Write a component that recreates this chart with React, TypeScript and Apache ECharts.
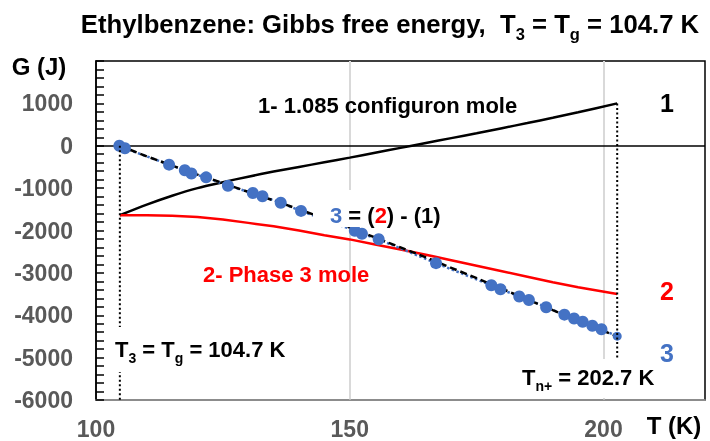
import React, { useEffect, useRef } from "react";
import * as echarts from "echarts";

// ---- data ----
const curveT = [104.7, 110, 115, 120, 125, 130, 135, 140, 145, 150, 155, 160, 165, 170, 175, 180, 185, 190, 195, 202.7];
// 1 - 1.085 configuron mole
const configuronG = [-1640, -1390, -1180, -1000, -860, -730, -610, -500, -390, -280, -165, -50, 65, 180, 295, 415, 535, 660, 790, 1000];
// 2 - Phase 3 mole
const phase3G = [-1640, -1640, -1650, -1680, -1740, -1820, -1900, -2000, -2110, -2210, -2330, -2450, -2570, -2700, -2830, -2960, -3090, -3220, -3340, -3500];
// black dashed curve (2) - (1)
const diffG = [0, -250, -470, -680, -880, -1090, -1290, -1500, -1720, -1930, -2165, -2400, -2635, -2880, -3125, -3375, -3625, -3880, -4130, -4500];
// blue points, 3
const pointT = [104.6, 105.7, 114.4, 117.5, 118.8, 121.7, 126.0, 130.9, 132.8, 136.4, 140.4, 151.0, 152.4, 155.7, 167.0, 177.9, 179.7, 183.4, 185.3, 188.7, 192.3, 194.2, 195.9, 197.8, 199.6, 202.7];
const pointG = [0, -60, -446, -577, -654, -746, -946, -1115, -1192, -1346, -1538, -2005, -2078, -2208, -2771, -3293, -3386, -3556, -3640, -3810, -3986, -4078, -4155, -4248, -4332, -4494];
const T3 = 104.7;
const Tn = 202.7;
const T3LineG = [0, -6000];
const TnLineG = [1000, -6000];

const FONT = "'Liberation Sans', Arial, Helvetica, sans-serif";
const BLUE = "#4472C4";
const RED = "#FF0000";

export default function App() {
  const ref = useRef<HTMLDivElement>(null);
  useEffect(() => {
    if (!ref.current) return;
    const chart = echarts.init(ref.current, undefined, { renderer: "svg" });
    const pair = (xs: number[], ys: number[]) => xs.map((x, i) => [x, ys[i]]);
    const txt = (
      text: string,
      x: number,
      y: number,
      size: number,
      color: string,
      align: string = "left",
      rich?: any
    ) => ({
      type: "text",
      x,
      y,
      z: 100,
      silent: true,
      style: {
        text,
        font: `bold ${size}px ${FONT}`,
        fill: color,
        align,
        textAlign: align,
        verticalAlign: "middle",
        textVerticalAlign: "middle",
        rich,
      },
    });
    const whiteBox = (x: number, y: number, w: number, h: number) => ({
      type: "rect",
      z: 99,
      silent: true,
      shape: { x, y, width: w, height: h },
      style: { fill: "#fff" },
    });
    const sub = (size: number, pad: number, color = "#000") => ({
      fontSize: size,
      fontWeight: "bold",
      fontFamily: FONT,
      fill: color,
      color,
      padding: [pad, 0, 0, 0],
    });
    const plain = (size: number, color: string) => ({
      fontSize: size,
      fontWeight: "bold",
      fontFamily: FONT,
      fill: color,
      color,
    });

    chart.setOption({
      animation: false,
      grid: {
        left: 96,
        right: 5,
        top: 61,
        bottom: 41,
        show: true,
        borderColor: "#000",
        borderWidth: 1.5,
        backgroundColor: "transparent",
      },
      xAxis: {
        type: "value",
        min: 100,
        max: 220,
        interval: 50,
        axisLine: { show: true, onZero: false, lineStyle: { color: "#a6a6a6", width: 1.5 } },
        axisTick: { show: false },
        axisLabel: {
          color: "#595959",
          fontWeight: "bold",
          fontSize: 23,
          fontFamily: FONT,
          margin: 17,
          showMaxLabel: false,
          formatter: (v: number) => (v % 50 === 0 ? String(v) : ""),
        },
        splitLine: {
          show: true,
          showMinLine: false,
          showMaxLine: false,
          lineStyle: { color: "#d9d9d9", width: 2 },
        },
      },
      yAxis: {
        type: "value",
        min: -6000,
        max: 2000,
        interval: 1000,
        axisLine: { show: true, onZero: false, lineStyle: { color: "#000", width: 1.5 } },
        axisTick: { show: true, inside: true, length: 8, lineStyle: { color: "#000", width: 1.5 } },
        minorTick: { show: true, splitNumber: 5, length: 8, lineStyle: { color: "#000", width: 1.5 } },
        axisLabel: {
          color: "#595959",
          fontWeight: "bold",
          fontSize: 23,
          fontFamily: FONT,
          margin: 23,
          showMaxLabel: false,
          formatter: (v: number) => String(v),
        },
        splitLine: { show: false },
      },
      series: [
        {
          type: "line",
          name: "1",
          data: pair(curveT, configuronG),
          symbol: "none",
          smooth: 0.3,
          lineStyle: { color: "#000", width: 2.5 },
          z: 3,
          markLine: {
            silent: true,
            symbol: ["none", "none"],
            label: { show: false },
            lineStyle: { color: "#000", width: 1.5, type: "solid" },
            data: [{ yAxis: 0 }],
          },
        },
        {
          type: "line",
          name: "2",
          data: pair(curveT, phase3G),
          symbol: "none",
          lineStyle: { color: RED, width: 2.5 },
          z: 3,
        },
        {
          type: "line",
          name: "3 line",
          data: pair(pointT, pointG),
          symbol: "none",
          lineStyle: { color: BLUE, width: 2.5, type: "dotted" },
          z: 4,
        },
        {
          type: "line",
          name: "diff",
          data: pair(curveT, diffG),
          symbol: "none",
          lineStyle: { color: "#000", width: 2.5, type: [7, 4] },
          z: 5,
        },
        {
          type: "scatter",
          name: "3",
          data: pair(pointT, pointG),
          symbol: "circle",
          symbolSize: (_v: any, p: any) => (p.dataIndex === pointT.length - 1 ? 9 : 12),
          itemStyle: { color: BLUE, opacity: 1 },
          z: 6,
        },
        {
          type: "line",
          name: "T3",
          data: pair([T3, T3], T3LineG),
          symbol: "none",
          lineStyle: { color: "#000", width: 2, type: [2, 2.5] },
          z: 7,
        },
        {
          type: "line",
          name: "Tn",
          data: pair([Tn, Tn], TnLineG),
          symbol: "none",
          lineStyle: { color: "#000", width: 2, type: [2, 2.5] },
          z: 7,
        },
      ],
      graphic: [
        whiteBox(313, 190, 133, 37),
        whiteBox(110, 327, 185, 45),
        whiteBox(515, 359, 145, 39),
        txt(
          "Ethylbenzene: Gibbs free energy,  T{s|3} = T{s|g} = 104.7 K",
          390,
          24,
          25.7,
          "#000",
          "center",
          { s: sub(16.5, 20) }
        ),
        txt("G (J)", 39, 66, 24, "#000", "center"),
        txt("T (K)", 674, 425, 24, "#000", "center"),
        txt("1- 1.085 configuron mole", 258, 105, 22, "#000"),
        txt("1", 667, 103, 25, "#000", "center"),
        txt("{b|3} = ({r|2}) - (1)", 330, 215, 22, "#000", "left", {
          b: plain(22, BLUE),
          r: plain(22, RED),
        }),
        txt("2- Phase 3 mole", 203, 274, 22, RED),
        txt("2", 667, 291, 25, RED, "center"),
        txt("3", 667, 353, 25, BLUE, "center"),
        txt("T{s|3} = T{s|g} = 104.7 K", 115, 349, 22, "#000", "left", { s: sub(14, 18) }),
        txt("T{s|n+} = 202.7 K", 522, 377, 22, "#000", "left", { s: sub(14, 18) }),
      ],
    });
    return () => chart.dispose();
  }, []);
  return (
    <div
      ref={ref}
      style={{ position: "fixed", left: 0, top: 0, width: 710, height: 441 }}
    />
  );
}
